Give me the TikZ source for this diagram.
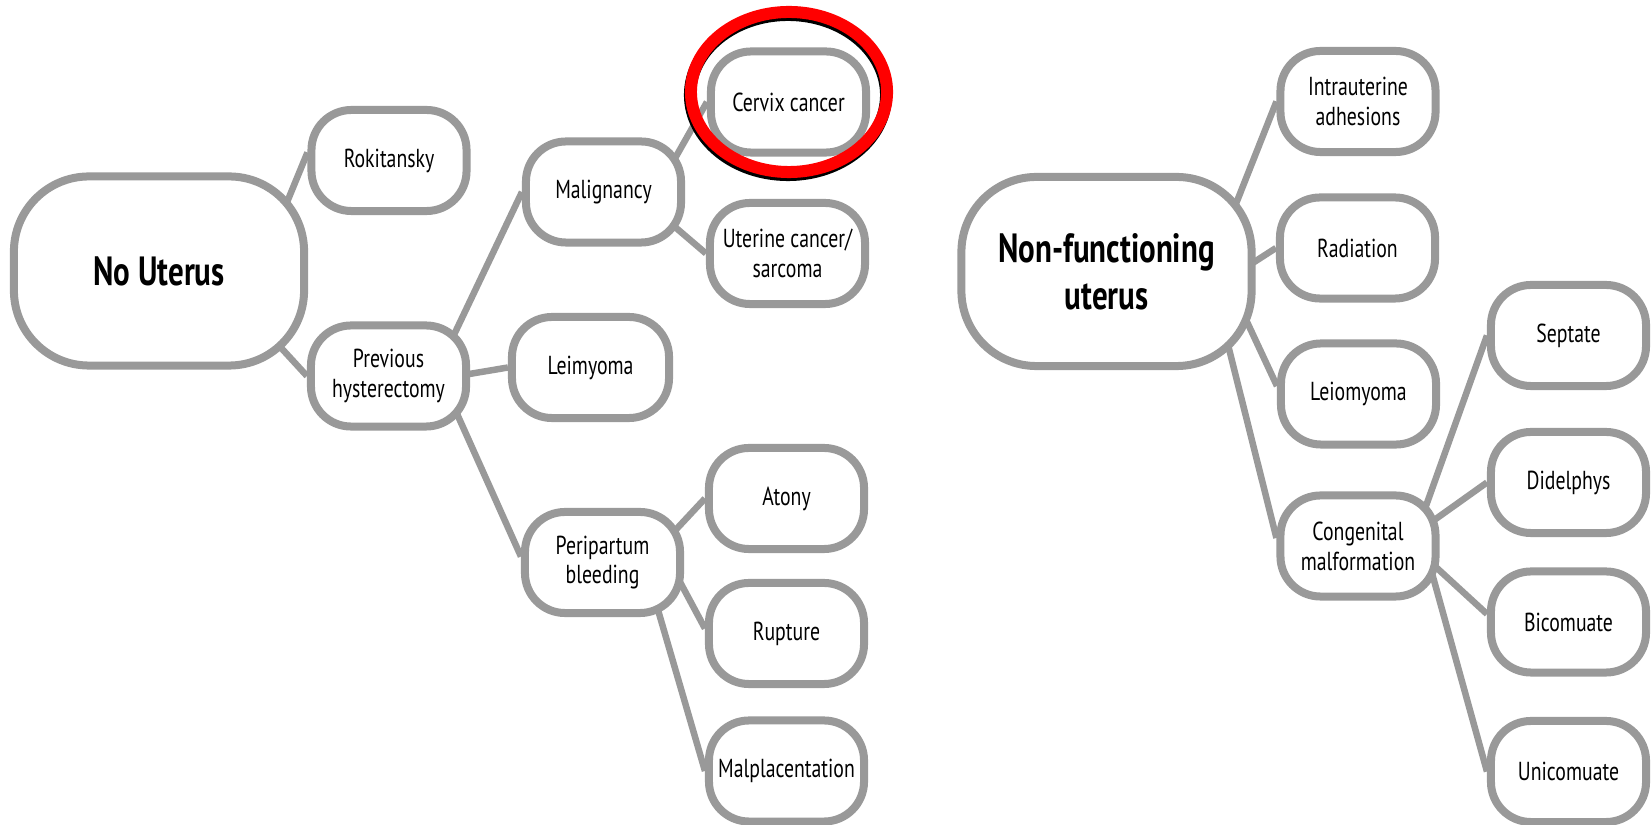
\documentclass[tikz,border=0pt]{standalone}
\usepackage{fontspec}
\usepackage{xcolor}
\usepackage{tikz}
\usetikzlibrary{calc,backgrounds}
\newfontfamily\diagfont{PT Sans}[FakeStretch=0.76]
\definecolor{boxgray}{RGB}{153,153,153}
\definecolor{markred}{RGB}{255,0,0}
\tikzset{
  every picture/.style={line cap=round,line join=round},
  leaf/.style={draw=boxgray, line width=0.08cm, fill=white, rounded corners=0.4cm,
    minimum width=1.55cm, minimum height=1.01cm, inner sep=0pt, align=center,
    font=\diagfont\fontsize{7.4}{8.5}\selectfont},
  root/.style={leaf, rounded corners=0.75cm, minimum width=2.9cm, minimum height=1.89cm,
    font=\diagfont\bfseries\fontsize{11.6}{13.4}\selectfont},
  link/.style={draw=boxgray, line width=0.065cm},
}

\begin{document}
\begin{tikzpicture}[x=0.01cm, y=-0.01cm]
    \useasboundingbox (0,0) rectangle (1651,825);
    % 左の木
    \node[root] (nou) at (159,271) {No Uterus};
    \node[leaf] (rok) at (389,160.5) {Rokitansky};
    \node[leaf] (prev) at (388.5,376) {Previous\\hysterectomy};
    \node[leaf] (mal) at (603.5,192) {Malignancy};
    \node[leaf, minimum width=1.57cm] (leim) at (590.5,367.5) {Leimyoma};
    \node[leaf] (peri) at (602.5,562.5) {Peripartum\\bleeding};
    \node[leaf] (cerv) at (788.5,102) {Cervix cancer};
    \node[leaf] (uter) at (787.5,253.5) {Uterine cancer/\\sarcoma};
    \node[leaf] (atony) at (786.5,498.5) {Atony};
    \node[leaf] (rupt) at (786.5,633.5) {Rupture};
    \node[leaf] (malp) at (786.5,771) {Malplacentation};
    % 右の木
    \node[root] (nfu) at (1106.5,271.5) {Non-functioning\\uterus};
    \node[leaf] (intra) at (1358,101.5) {Intrauterine\\adhesions};
    \node[leaf] (rad) at (1357.5,248) {Radiation};
    \node[leaf] (leio) at (1358.5,394) {Leiomyoma};
    \node[leaf] (cong) at (1358,546) {Congenital\\malformation};
    \node[leaf] (sept) at (1568.5,335.5) {Septate};
    \node[leaf] (didel) at (1568.5,482.5) {Didelphys};
    \node[leaf] (bico) at (1568.5,622) {Bicomuate};
    \node[leaf] (unic) at (1568.5,771.5) {Unicomuate};
    % 枝
    \begin{pgfonlayer}{background}
      \fill[white] (0,0) rectangle (1651,825);
      \foreach \a/\dx/\dy/\b/\ty in {nou/117/-42/rok/-8, nou/102/55/prev/0,
        prev/53.5/-16/mal/0, prev/57/2/leim/0, prev/56.5/11/peri/-6,
        mal/57.5/-9/cerv/0, mal/50.5/17/uter/0,
        peri/53.5/-11.5/atony/0, peri/62.5/-8.5/rupt/-5, peri/48.5/23.5/malp/0,
        nfu/119.5/-42.5/intra/0, nfu/124.5/5.5/rad/0, nfu/127.5/22.5/leio/-8,
        nfu/115.5/49.5/cong/-8,
        cong/59/-15/sept/0, cong/51/-8/didel/0, cong/56/1/bico/-8, cong/67/2/unic/0}{%
        \draw[link] ([shift={(\dx,\dy)}]\a.center) -- ([shift={(0,\ty)}]\b.west);
      }
    \end{pgfonlayer}
    % 強調の楕円
    \coordinate (hl) at ([shift={(0.5,-10)}]cerv.center);
    \draw[line width=0.12cm, black] ([shift={(-1,3)}]hl) ellipse [x radius=0.98cm, y radius=0.80cm];
    \draw[line width=0.12cm, markred] (hl) ellipse [x radius=0.98cm, y radius=0.80cm];
\end{tikzpicture}
\end{document}
